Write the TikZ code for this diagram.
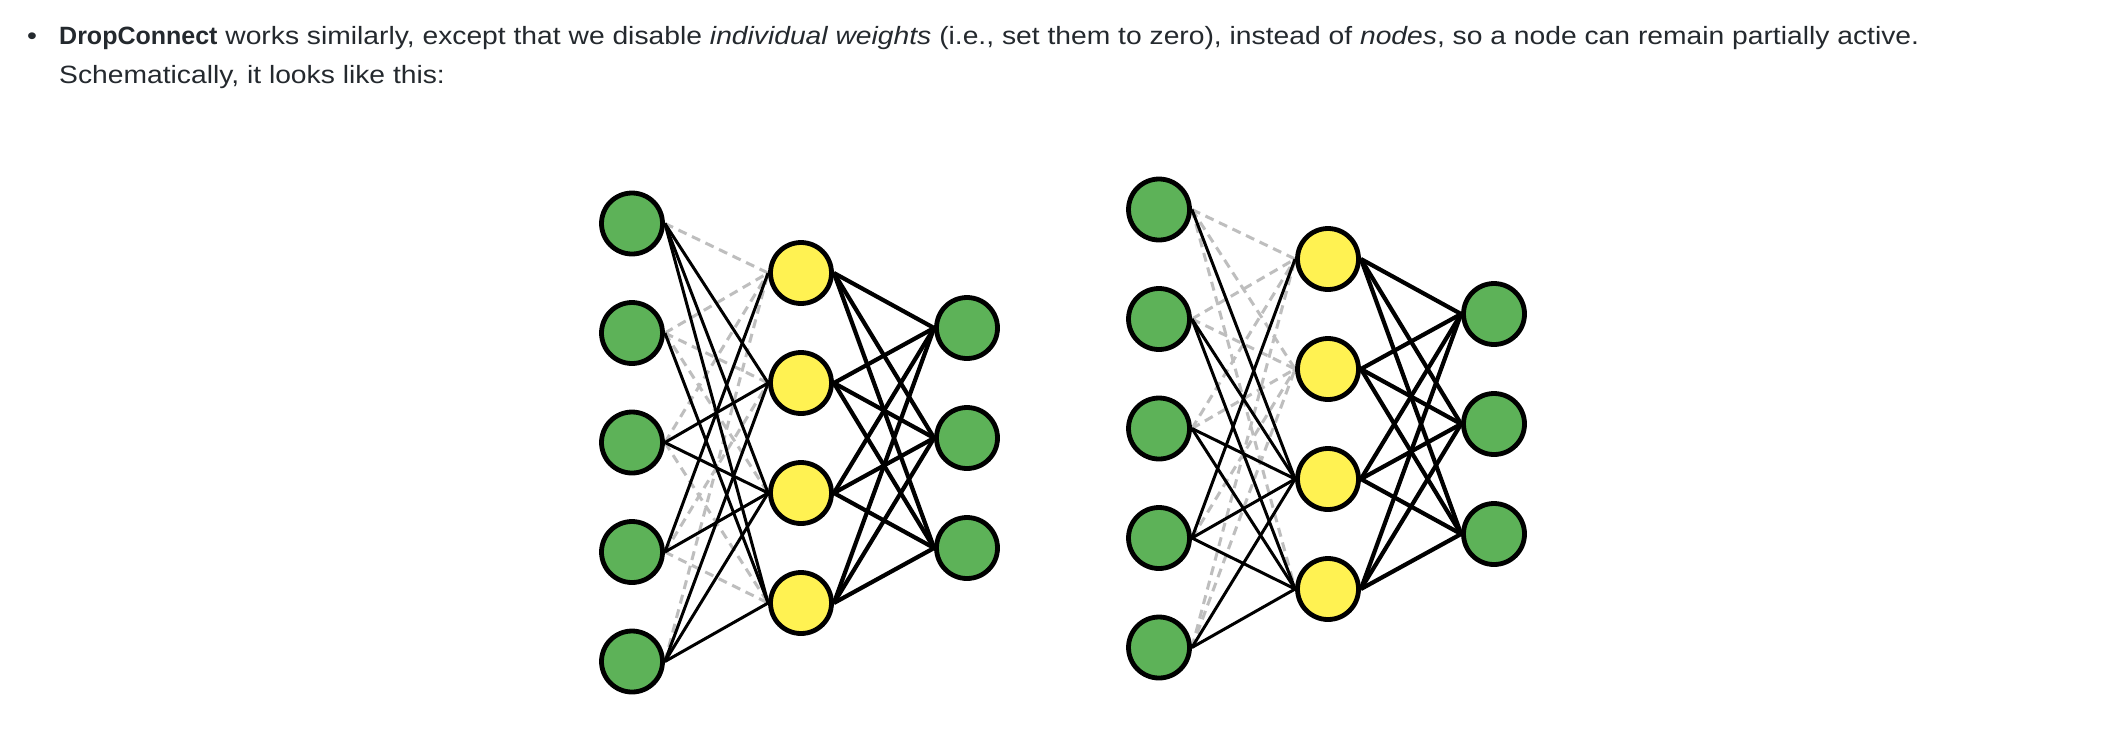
\documentclass[tikz,border=0pt]{standalone}
\usepackage{fontspec}
\setmainfont{Liberation Sans}[FakeStretch=1.13]
\newfontfamily\dropbold{Liberation Sans Bold}
\usepackage{tikz}
\usetikzlibrary{backgrounds}

\definecolor{textgray}{RGB}{36,41,46}
\definecolor{unitgreen}{RGB}{93,178,88}
\definecolor{unityellow}{RGB}{255,242,82}
\definecolor{dropgray}{RGB}{190,190,190}

\tikzset{
    unit/.style={circle, draw=black, line width=4.8pt, minimum size=61pt, inner sep=0pt},
    inunit/.style={unit, fill=unitgreen},
    hidunit/.style={unit, fill=unityellow},
    outunit/.style={unit, fill=unitgreen},
    weight/.style={black, line width=3pt},
    heavyweight/.style={black, line width=4.2pt},
    dropped/.style={dropgray, line width=3pt, dash pattern=on 9pt off 6pt},
    para/.style={textgray, font=\fontsize{25}{39}\selectfont, anchor=base west, inner sep=0pt}
}

\begin{document}
\begin{tikzpicture}[x=1pt, y=-1pt]
    \useasboundingbox (0,0) rectangle (2114,740);

    \node [para, anchor=base] (bullet) at (32,44) {•};
    \node [para] (line1) at (59,44)
        {{\dropbold DropConnect} works similarly, except that we disable \textit{individual weights} (i.e., set them to zero), instead of \textit{nodes}, so a node can remain partially active.};
    \node [para] (line2) at (59,83) {Schematically, it looks like this:};

    % two networks: L = left, R = right
    \foreach \net/\sx/\sy in {L/632/442.5, R/1159/428.5}
    {
        \foreach \i in {1,...,5}
            \node [inunit] (\net-in\i) at (\sx, {\sy+(\i-3)*109.5}) {};
        \foreach \j in {1,...,4}
            \node [hidunit] (\net-hid\j) at (\sx+169, {\sy-4.5+(\j-2.5)*110}) {};
        \foreach \k in {1,2,3}
            \node [outunit] (\net-out\k) at (\sx+335, {\sy-4.5+(\k-2)*110}) {};
    }

    \begin{scope}[on background layer]
        \fill [white] (0,0) rectangle (2114,740);
        % left network
        \foreach \i/\j in {1/1, 2/1, 2/2, 2/3, 3/1, 3/4, 4/2, 4/4, 5/1}
            \draw [dropped] (L-in\i.east) -- (L-hid\j.west);
        \foreach \i/\j in {1/2, 1/3, 1/4, 2/4, 3/2, 3/3, 4/1, 4/3, 5/2, 5/3, 5/4}
            \draw [weight] (L-in\i.east) -- (L-hid\j.west);
        % right network
        \foreach \i/\j in {1/1, 1/2, 1/4, 2/1, 2/2, 3/1, 3/2, 4/2, 5/1, 5/2}
            \draw [dropped] (R-in\i.east) -- (R-hid\j.west);
        \foreach \i/\j in {1/3, 2/3, 2/4, 3/3, 3/4, 4/1, 4/3, 4/4, 5/3, 5/4}
            \draw [weight] (R-in\i.east) -- (R-hid\j.west);
        % hidden to output, all kept
        \foreach \net in {L,R}
            \foreach \j in {1,...,4}
                \foreach \k in {1,2,3}
                    \draw [heavyweight] (\net-hid\j.east) -- (\net-out\k.west);
    \end{scope}
\end{tikzpicture}
\end{document}
